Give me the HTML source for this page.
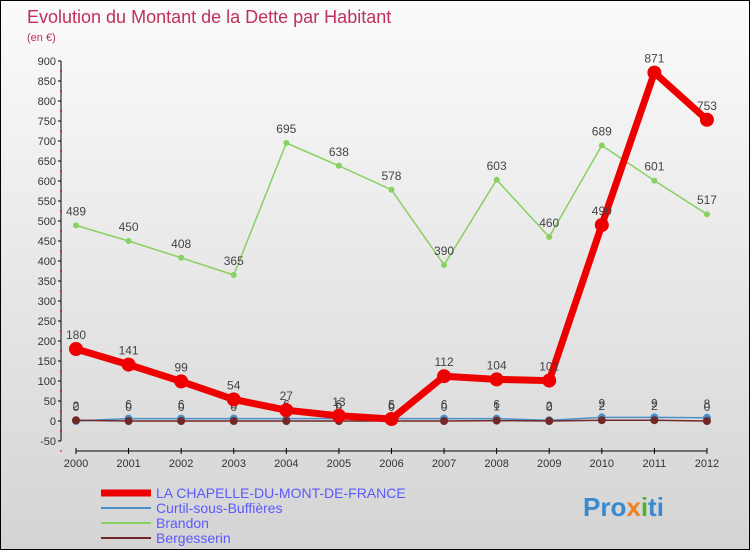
<!DOCTYPE html>
<html><head><meta charset="utf-8"><style>
body{margin:0}
#c{position:relative;width:748px;height:548px;border:1px solid #000;background:linear-gradient(#fbfbfb,#d4d4d4);font-family:"Liberation Sans",sans-serif;overflow:hidden}
</style></head><body>
<div id="c">
<svg id="s" width="748" height="548"></svg>
</div>
<script>
const years=[2000,2001,2002,2003,2004,2005,2006,2007,2008,2009,2010,2011,2012];
const chapelle=[180,141,99,54,27,13,5,112,104,101,490,871,753];
const curtil=[0,6,6,6,6,6,6,6,6,2,9,9,8];
const brandon=[489,450,408,365,695,638,578,390,603,460,689,601,517];
const berg=[2,0,0,0,0,0,0,0,1,0,2,2,0];
const yTicks=[-50,0,50,100,150,200,250,300,350,400,450,500,550,600,650,700,750,800,850,900];
const NS="http://www.w3.org/2000/svg";
const s=document.getElementById('s');
const X=i=>75+i*52.58, Y=v=>420-v*0.4;
function el(t,a,txt){const e=document.createElementNS(NS,t);for(const k in a)e.setAttribute(k,a[k]);if(txt!==undefined)e.textContent=txt;s.appendChild(e);return e;}
let e;
e=el('text',{x:26,y:22,fill:'#c0305a','font-size':18},'Evolution du Montant de la Dette par Habitant');

e=el('text',{x:26,y:40,fill:'#c0305a','font-size':11},'(en €)');

el('line',{x1:60,y1:Y(900),x2:60,y2:Y(-50),stroke:'#000'});
el('line',{x1:75,y1:450,x2:706,y2:450,stroke:'#000'});
yTicks.forEach(v=>{
 el('line',{x1:57,y1:Y(v),x2:60,y2:Y(v),stroke:'#000'});
 el('line',{x1:59,y1:Y(v)+10,x2:61,y2:Y(v)+10,stroke:'#d00'});
 e=el('text',{x:55,y:Y(v)+4,'text-anchor':'end','font-size':11,fill:'#333'},v);
 
});
years.forEach((y,i)=>{
 el('line',{x1:X(i),y1:447,x2:X(i),y2:453,stroke:'#000'});
 e=el('text',{x:X(i),y:466,'text-anchor':'middle','font-size':11,fill:'#333'},y);
 
});
function series(d,col,w,r,name){
 e=el('polyline',{points:d.map((v,i)=>X(i)+','+Y(v)).join(' '),fill:'none',stroke:col,'stroke-width':w,'stroke-linejoin':'round'});
 
 d.forEach((v,i)=>{
  e=el('circle',{cx:X(i),cy:Y(v),r:r,fill:col});
  
  e=el('text',{x:X(i),y:Y(v)-10,'text-anchor':'middle','font-size':12,fill:'#444'},v);
  
 });
}
series(brandon,'#88d060',1.5,3,'brandon');
series(curtil,'#4a90c8',1.5,4,'curtil');
series(berg,'#702828',1.5,4,'bergesserin');
series(chapelle,'#ee0000',7,7,'chapelle');
const leg=[['LA CHAPELLE-DU-MONT-DE-FRANCE','#ee0000',7],['Curtil-sous-Buffières','#4a90c8',2],['Brandon','#88d060',2],['Bergesserin','#702828',2]];
leg.forEach((l,i)=>{
 const y=492+i*15;
 e=el('line',{x1:100,y1:y,x2:150,y2:y,stroke:l[1],'stroke-width':l[2]});
 
 e=el('text',{x:155,y:y+5,'font-size':14,fill:'#5a5aff'},l[0]);
 
});
e=el('text',{x:582,y:515,'font-size':26,'font-weight':'bold'});

[['Pro','#3a8ad0'],['x','#f08020'],['i','#50b030'],['ti','#3a8ad0']].forEach(p=>{const t=document.createElementNS(NS,'tspan');t.setAttribute('fill',p[1]);t.textContent=p[0];e.appendChild(t);});
</script>
</body></html>
